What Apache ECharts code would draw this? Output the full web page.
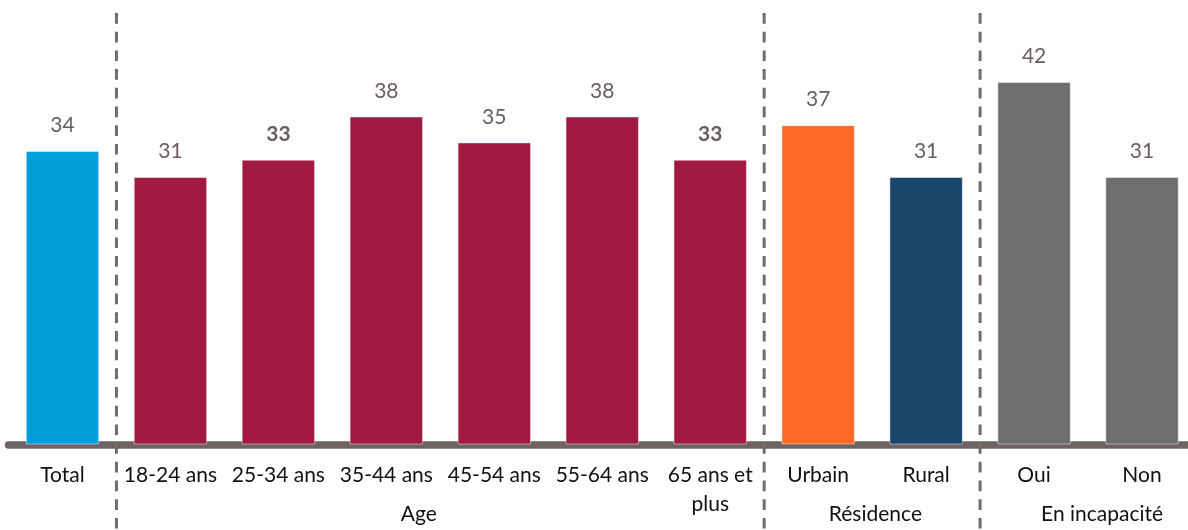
<!DOCTYPE html>
<html>
<head>
<meta charset="utf-8">
<script src="https://cdn.jsdelivr.net/npm/echarts@6/dist/echarts.min.js"></script>
<style>
  html, body { margin: 0; padding: 0; background: #ffffff; }
  #chart { width: 1188px; height: 530px; }
</style>
</head>
<body>
<div id="chart"></div>
<script>
// Categories along the x axis (first-level labels)
const categories = ['Total', '18-24 ans', '25-34 ans', '35-44 ans', '45-54 ans', '55-64 ans',
                    '65 ans et\nplus', 'Urbain', 'Rural', 'Oui', 'Non'];
// Bar values
const values = [34, 31, 33, 38, 35, 38, 33, 37, 31, 42, 31];
// Values shown in bold
const boldValues = [false, false, true, false, false, false, true, false, false, false, false];
// Second-level group labels
const groupNames = ['Age', 'Résidence', 'En incapacité'];

// Styling
const barColors = ['#009fdc', '#a11a42', '#a11a42', '#a11a42', '#a11a42', '#a11a42', '#a11a42',
                   '#fd6a25', '#1b4669', '#6d6e70', '#6d6e70'];
const FONT = 'Lato, "Open Sans", sans-serif';
const LABEL_COLOR = '#6b5d5d';
const AXIS_COLOR = '#6e6262';

// Group label anchor (in category units) and separator boundaries (after index)
const groupAnchors = [3.3, 7.53, 9.63];
const separatorsAfter = [0, 6, 8];

const chart = echarts.init(document.getElementById('chart'), null, { renderer: 'canvas' });

chart.setOption({
  animation: false,
  backgroundColor: '#ffffff',
  grid: {
    left: 8.5, width: 1187.5, top: 13, bottom: 85.5,
    containLabel: false, outerBoundsMode: 'none'
  },
  xAxis: {
    type: 'category',
    data: categories,
    boundaryGap: true,
    axisLine: { show: true, lineStyle: { color: AXIS_COLOR, width: 7.5 } },
    axisTick: { show: false },
    splitLine: { show: false },
    axisLabel: {
      interval: 0,
      color: '#111111',
      fontFamily: FONT,
      fontSize: 21,
      lineHeight: 29,
      margin: 16,
      verticalAlign: 'top'
    }
  },
  yAxis: {
    type: 'value',
    min: 0,
    max: 50,
    show: false,
    splitLine: { show: false }
  },
  series: [{
    type: 'bar',
    barWidth: '68%',
    data: values.map((v, i) => ({
      value: v,
      itemStyle: { color: barColors[i] },
      label: { fontWeight: boldValues[i] ? 'bold' : 'normal' }
    })),
    itemStyle: { borderColor: 'rgba(255,255,255,0.45)', borderWidth: 1 },
    label: {
      show: true,
      position: 'top',
      distance: 15,
      color: LABEL_COLOR,
      fontFamily: FONT,
      fontSize: 21
    },
    z: 1
  }]
});

// Dashed separators and group labels positioned from the category scale
function pixelAt(pos) {
  const a = chart.convertToPixel({ xAxisIndex: 0 }, 0);
  const b = chart.convertToPixel({ xAxisIndex: 0 }, 1);
  return a + (b - a) * pos;
}

const graphics = [];
separatorsAfter.forEach(idx => {
  const x = pixelAt(idx + 0.5);
  graphics.push({
    type: 'line',
    silent: true,
    z: 10,
    shape: { x1: x, y1: 13, x2: x, y2: 530 },
    style: { stroke: '#766a6a', lineWidth: 3, lineDash: [10.7, 8] }
  });
});
groupNames.forEach((name, i) => {
  graphics.push({
    type: 'text',
    silent: true,
    z: 10,
    x: pixelAt(groupAnchors[i]),
    y: 514,
    style: {
      text: name,
      fill: '#111111',
      font: '21px ' + FONT,
      align: 'center',
      verticalAlign: 'middle'
    }
  });
});
chart.setOption({ graphic: graphics });
</script>
</body>
</html>
